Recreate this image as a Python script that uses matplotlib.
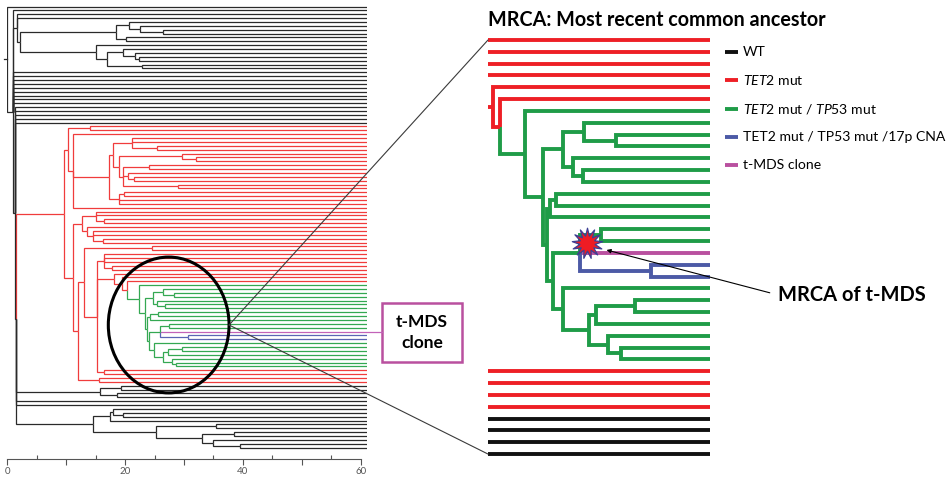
import matplotlib
matplotlib.use('Agg')
import matplotlib.pyplot as plt
from matplotlib.patches import Ellipse, Rectangle, ConnectionPatch
from matplotlib.path import Path
from matplotlib.ticker import FixedLocator, FuncFormatter

plt.rcParams['font.family'] = ['Lato', 'DejaVu Sans']
plt.rcParams['mathtext.fontset'] = 'custom'
plt.rcParams['mathtext.rm'] = 'Lato'
plt.rcParams['mathtext.it'] = 'Lato:italic'
plt.rcParams['mathtext.bf'] = 'Lato:bold'

# leaf colour codes, lowest rank wins when a node holds several
colour_rank = ['k', 'r', 'g', 'b', 'm']
left_colours = {'k': '#2a2a2a', 'r': '#f03c3c', 'g': '#34a852', 'b': '#5a64b4', 'm': '#c262b8'}
right_colours = {'k': '#111111', 'r': '#ee1f26', 'g': '#1f9c48', 'b': '#4c5aa6', 'm': '#b9509f'}

# the clade that is blown up on the right: node -> children (strings of one letter are leaves)
clade_children = {
    'Ra': ['r', 'Rb'],
    'Rb': ['r', 'G'],
    'G': ['g', 'G2'],
    'G2': ['G3', 'G8'],
    'G3': ['G4', 'G6'],
    'G4': ['g', 'G5'],
    'G5': ['g', 'g'],
    'G6': ['g', 'G7'],
    'G7': ['g', 'g'],
    'G8': ['G9', 'G11'],
    'G9': ['G10', 'g'],
    'G10': ['g', 'g'],
    'G11': ['S', 'G13'],
    'S': ['G12', 'm', 'B'],
    'G12': ['g', 'g'],
    'B': ['b', 'b'],
    'G13': ['g', 'G14'],
    'G14': ['G15', 'G17'],
    'G15': ['G16', 'g'],
    'G16': ['g', 'g'],
    'G17': ['g', 'G18'],
    'G18': ['g', 'g'],
}
# node heights on the full tree (axis units)
clade_x_left = {'Ra': 19.5, 'Rb': 20.4, 'G': 22.3, 'G2': 23.3, 'G3': 24.8, 'G4': 26.5,
                'G5': 28.3, 'G6': 25.5, 'G7': 26.8, 'G8': 23.7, 'G9': 24.3, 'G10': 25.6,
                'G11': 24.0, 'S': 25.9, 'G12': 27.4, 'B': 30.6, 'G13': 24.9, 'G14': 26.5,
                'G15': 27.2, 'G16': 29.6, 'G17': 27.9, 'G18': 28.7}
# node heights on the schematic (0 = left edge, 100 = tips)
clade_x_right = {'Ra': 2.3, 'Rb': 5.4, 'G': 16.7, 'G2': 24.8, 'G3': 33.8, 'G4': 43.2,
                 'G5': 57.7, 'G6': 38.3, 'G7': 42.8, 'G8': 26.6, 'G9': 27.9, 'G10': 30.6,
                 'G11': 29.3, 'S': 41.4, 'G12': 50.9, 'B': 73.4, 'G13': 33.8, 'G14': 45.5,
                 'G15': 48.6, 'G16': 66.2, 'G17': 54.1, 'G18': 59.9}

# leaves shown above / below the clade in the blow-up
right_above = ['r', 'r', 'r', 'r']
right_below = ['r', 'r', 'r', 'r', 'k', 'k', 'k', 'k']

legend_labels = ['WT', r'$\mathit{TET2}$ mut', r'$\mathit{TET2}$ mut / $\mathit{TP53}$ mut',
                 'TET2 mut / TP53 mut /17p CNA', 't-MDS clone']
legend_codes = ['k', 'r', 'g', 'b', 'm']

x_ticks = [0, 20, 40, 60]


def build_clade(name, heights):
    kids = [build_clade(c, heights) if c in clade_children else c for c in clade_children[name]]
    return (heights[name], kids, name)


ra_left = build_clade('Ra', clade_x_left)
ra_right = build_clade('Ra', clade_x_right)

# rest of the full tree: (height, [children]), leaves are colour letters
black_top_upper = (18.4, [(20.6, ['k', (22.5, ['k', (26.5, ['k', 'k'])])]), (20.1, ['k', 'k'])])
black_top_lower = (15.1, ['k', (16.9, [(19.7, ['k', (21.7, ['k', (22.3, ['k', 'k'])])]),
                                       (22.8, ['k', 'k'])])])
red_top = (10.3, [
    (14.1, ['r', 'r']),
    (11.2, ['r',
            (17.2, [(18.0, [(21.1, ['r', 'r', (25.5, ['r', 'r'])]),
                            (18.9, [(29.7, ['r', (32.0, ['r', 'r'])]),
                                    (19.7, [(24.0, ['r', 'r']), (20.5, ['r', (21.5, ['r', 'r'])]),
                                            (29.0, ['r', 'r'])])])]),
                    (19.0, [(19.8, ['r', 'r']), 'r', 'r'])]),
            'r']),
])
red_low = (11.2, [
    (12.7, [(15.0, ['r', 'r', (16.5, ['r', 'r'])]),
            (13.6, ['r', (14.6, ['r', 'r', (16.2, ['r', 'r'])])])]),
    (12.0, [(13.0, [(24.6, ['r', 'r']),
                    (15.3, [(16.5, ['r', 'r', 'r', (17.8, ['r', 'r'])]),
                            (18.2, ['r', ra_left]),
                            (16.5, ['r', 'r'])])]),
            (15.5, ['r', 'r'])]),
])
black_low_a = (15.8, [(19.3, ['k', 'k']), (18.7, ['k', 'k'])])
black_low_b = (14.5, [(17.5, [(18.0, ['k', (19.6, ['k', 'k'])]), 'k']),
                      (25.2, [(35.4, ['k', 'k']),
                              (33.0, [(38.5, ['k', 'k']), (35.0, ['k', (39.5, ['k', 'k'])])])])])
full_tree = (0.0, ['k', (0.9, ['k', (1.6, ['k', 'k', (2.2, [black_top_upper, black_top_lower])]),
                               'k', 'k', 'k', 'k', 'k', 'k', 'k', 'k', 'k',
                               (1.3, ['k', 'k', 'k', 'k', 'k',
                                      (1.5, [(9.7, [red_top, red_low]),
                                             black_low_a, 'k', 'k', black_low_b])])])])


def draw_tree(ax, tree, first_leaf, tip_x, colours, lw):
    counter = [first_leaf]
    segs, leaves, named = [], [], {}

    def place(n):
        if isinstance(n, str):
            y = counter[0]
            counter[0] += 1
            leaves.append((y, n))
            return tip_x, y, n
        x, kids = n[0], n[1]
        placed = [place(c) for c in kids]
        y = (placed[0][1] + placed[-1][1]) / 2
        for cx, cy, cc in placed:
            segs.append(([x, x, cx], [y, cy, cy], cc))
        col = min((p[2] for p in placed), key=colour_rank.index)
        if len(n) == 3:
            named[n[2]] = (x, y)
        return x, y, col

    root = place(tree)
    for xs, ys, c in segs:
        ax.plot(xs, ys, color=colours[c], lw=lw, zorder=10 - colour_rank.index(c),
                solid_joinstyle='miter', solid_capstyle='butt')
    return root, leaves, named, counter[0]


fig = plt.figure(figsize=(9.52, 4.79), dpi=100)
W, H = 952, 479

# overlay in pixel units for the annotations
ax0 = fig.add_axes([0, 0, 1, 1])
ax0.set_xlim(0, W)
ax0.set_ylim(H, 0)
ax0.axis('off')

# left: full tree
ax1 = fig.add_axes([7.3 / W, (H - 459) / H, 5.89 * 61 / W, 459 / H])
ax1.set_xlim(0, 61)
ax1.set_ylim(116.93, -1.68)
root, leaves, _, _ = draw_tree(ax1, full_tree, 0, 61, left_colours, 0.9)
ax1.plot([-0.5, 0], [root[1], root[1]], color=left_colours['k'], lw=0.9, clip_on=False)
# magenta tip runs on to its label box
for y, c in leaves:
    if c == 'm':
        ax1.plot([61, 63.6], [y, y], color=left_colours['m'], lw=0.9, clip_on=False)
for s in ['top', 'right', 'left']:
    ax1.spines[s].set_visible(False)
ax1.spines['bottom'].set_bounds(0, 60)
ax1.spines['bottom'].set_color('#555555')
ax1.spines['bottom'].set_linewidth(0.8)
ax1.set_yticks([])
ax1.xaxis.set_major_locator(FixedLocator(range(0, 61, 10)))
ax1.xaxis.set_minor_locator(FixedLocator(range(5, 60, 10)))
ax1.xaxis.set_major_formatter(FuncFormatter(lambda v, p: f'{v:.0f}' if v in x_ticks else ''))
ax1.tick_params(axis='x', which='major', direction='out', length=4, width=0.8, color='#555555',
                labelsize=7, labelcolor='#555555', pad=1.5)
ax1.tick_params(axis='x', which='minor', direction='in', length=3, width=0.8, color='#555555')
ax1.patch.set_alpha(0)

zoom_ring = Ellipse((27.4, 82.3), 20.5, 35.1, fill=False, lw=2.2, ec='black', clip_on=False, zorder=20)
ax1.add_patch(zoom_ring)

# right: schematic of the clade
ax2 = fig.add_axes([488 / W, (H - 466) / H, 222 / W, 438 / H])
ax2.set_xlim(0, 100)
ax2.set_ylim(36.01, -1.014)
ax2.axis('off')
for i, c in enumerate(right_above):
    ax2.plot([0, 100], [i, i], color=right_colours[c], lw=2.8, solid_capstyle='butt')
rroot, rleaves, rnodes, nxt = draw_tree(ax2, ra_right, len(right_above), 100, right_colours, 2.8)
ax2.plot([0, rroot[0]], [rroot[1], rroot[1]], color=right_colours['r'], lw=2.8, solid_capstyle='butt')
for i, c in enumerate(right_below):
    ax2.plot([0, 100], [nxt + i, nxt + i], color=right_colours[c], lw=2.8, solid_capstyle='butt')

# MRCA star on the t-MDS ancestor node
sx, sy = rnodes['S']
star = Path.unit_regular_star(13, 0.5)
ax2.plot(sx + 3.2, sy - 0.8, marker=star, ms=22, mfc='#ee1c24', mec='#3d3f94', mew=0.9,
         zorder=30, clip_on=False)
ax2.annotate('MRCA of t-MDS', xy=(sx + 12, sy - 0.25), xytext=(130.6, 21.55),
             fontsize=14.5, fontweight='bold', ha='left', va='center', annotation_clip=False,
             arrowprops=dict(arrowstyle='-|>', color='black', lw=0.8, mutation_scale=6,
                             shrinkA=4, shrinkB=0, relpos=(0, 0.5)), zorder=30)

# zoom lines from the ring to the blow-up
for yy in [0, nxt + len(right_below) - 1]:
    con = ConnectionPatch(xyA=(27.4 + 10.25, 82.3), coordsA=ax1.transData,
                          xyB=(0, yy), coordsB=ax2.transData, color='#3a3a3a', lw=0.8, zorder=25)
    fig.add_artist(con)

# t-MDS label box
ax0.add_patch(Rectangle((382, 303), 80, 59, fill=False, ec='#b9509f', lw=1.8))
ax0.text(422, 332.5, 't-MDS\nclone', ha='center', va='center', fontsize=12.5,
         fontweight='bold', linespacing=1.35)

# heading and legend
ax0.text(488, 20, 'MRCA: Most recent common ancestor', fontsize=14.2, fontweight='bold',
         ha='left', va='center')
for i, (lab, code) in enumerate(zip(legend_labels, legend_codes)):
    ly = 52 + i * 28.3
    ax0.plot([725, 738], [ly, ly], color=right_colours[code], lw=2.8, solid_capstyle='butt')
    ax0.text(743, ly, lab, fontsize=10.1, ha='left', va='center')

fig.savefig('out.png', dpi=100)
